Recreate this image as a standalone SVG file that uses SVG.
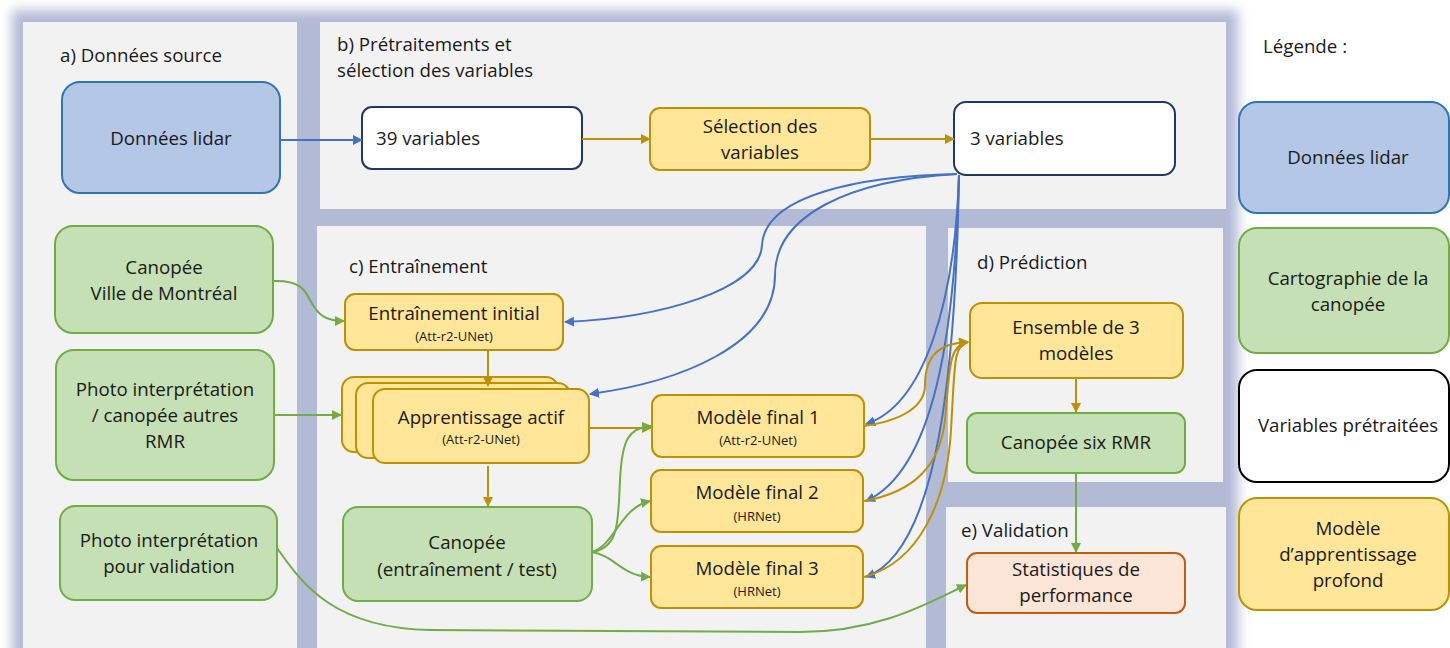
<svg xmlns="http://www.w3.org/2000/svg" width="1450" height="648" viewBox="0 0 1450 648">
<style>
.t{font-family:"Open Sans","Noto Sans",sans-serif;font-size:18.7px;fill:#1a1a1a}
.c{text-anchor:middle}
.s{font-size:13px}
.panel{fill:#f2f2f2}
.lidar{fill:#b4c7e7;stroke:#2e75b6;stroke-width:2}
.green{fill:#c5e0b4;stroke:#70ad47;stroke-width:2}
.white{fill:#fff;stroke:#203864;stroke-width:2}
.gold{fill:#ffe699;stroke:#bf9000;stroke-width:2}
.orange{fill:#fbe5d6;stroke:#c55a11;stroke-width:2}
.cb{fill:none;stroke:#4472c4;stroke-width:2;marker-end:url(#ab)}
.cg{fill:none;stroke:#bf9000;stroke-width:2;marker-end:url(#ag)}
.cv{fill:none;stroke:#70ad47;stroke-width:2;marker-end:url(#av)}
</style>
<defs>
<filter id="blur" x="-5%" y="-5%" width="110%" height="110%"><feGaussianBlur stdDeviation="6"/></filter>
<marker id="ab" viewBox="0 0 10 10" refX="9" refY="5" markerWidth="5" markerHeight="5" orient="auto"><path d="M0,0 L10,5 L0,10 z" fill="#4472c4"/></marker>
<marker id="ag" viewBox="0 0 10 10" refX="9" refY="5" markerWidth="5" markerHeight="5" orient="auto"><path d="M0,0 L10,5 L0,10 z" fill="#bf9000"/></marker>
<marker id="av" viewBox="0 0 10 10" refX="9" refY="5" markerWidth="5" markerHeight="5" orient="auto"><path d="M0,0 L10,5 L0,10 z" fill="#70ad47"/></marker>
</defs>
<rect width="1450" height="648" fill="#fff"/>
<rect x="12" y="10" width="1226" height="670" fill="#b3bad6" filter="url(#blur)"/>
<g id="panels">
<rect class="panel" x="23" y="22" width="274" height="640"/>
<rect class="panel" x="320" y="22" width="906" height="187"/>
<rect class="panel" x="317" y="226" width="609" height="430"/>
<rect class="panel" x="948" y="228" width="275" height="254"/>
<rect class="panel" x="946" y="507" width="280" height="150"/>
<text class="t" x="60" y="62">a) Données source</text>
<text class="t" x="337" y="51">b) Prétraitements et</text>
<text class="t" x="337" y="77">sélection des variables</text>
<text class="t" x="349" y="273">c) Entraînement</text>
<text class="t" x="977" y="269">d) Prédiction</text>
<text class="t" x="961" y="537">e) Validation</text>
</g>
<g id="n-lidar"><rect class="lidar" x="62" y="82" width="218" height="111" rx="18"/><text class="t c" x="171" y="145">Données lidar</text></g>
<g id="n-canmtl"><rect class="green" x="55" y="226" width="218" height="107" rx="18"/><text class="t c" x="164" y="274">Canopée</text><text class="t c" x="164" y="300">Ville de Montréal</text></g>
<g id="n-photo"><rect class="green" x="56" y="350" width="218" height="130" rx="18"/><text class="t c" x="165" y="396">Photo interprétation</text><text class="t c" x="165" y="422">/ canopée autres</text><text class="t c" x="165" y="448">RMR</text></g>
<g id="n-photoval"><rect class="green" x="60" y="506" width="217" height="94" rx="15"/><text class="t c" x="169" y="547">Photo interprétation</text><text class="t c" x="169" y="573">pour validation</text></g>
<g id="n-39"><rect class="white" x="362" y="107" width="220" height="62" rx="10"/><text class="t" x="376" y="145">39 variables</text></g>
<g id="n-sel"><rect class="gold" x="650" y="108" width="220" height="62" rx="10"/><text class="t c" x="760" y="133">Sélection des</text><text class="t c" x="760" y="159">variables</text></g>
<g id="n-3"><rect class="white" x="954" y="102" width="221" height="73" rx="12"/><text class="t" x="970" y="145">3 variables</text></g>
<g id="n-init"><rect class="gold" x="345" y="294" width="218" height="56" rx="10"/><text class="t c" x="454" y="320">Entraînement initial</text><text class="t c s" x="454" y="341">(Att-r2-UNet)</text></g>
<g id="n-actif"><rect class="gold" x="342" y="377" width="216" height="75" rx="12"/><rect class="gold" x="356" y="383" width="214" height="75" rx="12"/><rect class="gold" x="373" y="389" width="216" height="74" rx="12"/><text class="t c" x="481" y="424">Apprentissage actif</text><text class="t c s" x="481" y="444">(Att-r2-UNet)</text></g>
<g id="n-cantt"><rect class="green" x="343" y="507" width="249" height="94" rx="15"/><text class="t c" x="467" y="549">Canopée</text><text class="t c" x="467" y="576">(entraînement / test)</text></g>
<g id="n-m1"><rect class="gold" x="652" y="395" width="212" height="62" rx="10"/><text class="t c" x="758" y="424">Modèle final 1</text><text class="t c s" x="758" y="445">(Att-r2-UNet)</text></g>
<g id="n-m2"><rect class="gold" x="651" y="470" width="212" height="62" rx="10"/><text class="t c" x="757" y="499">Modèle final 2</text><text class="t c s" x="757" y="521">(HRNet)</text></g>
<g id="n-m3"><rect class="gold" x="651" y="546" width="212" height="62" rx="10"/><text class="t c" x="757" y="575">Modèle final 3</text><text class="t c s" x="757" y="596">(HRNet)</text></g>
<g id="n-ens"><rect class="gold" x="970" y="303" width="213" height="75" rx="12"/><text class="t c" x="1076" y="334">Ensemble de 3</text><text class="t c" x="1076" y="360">modèles</text></g>
<g id="n-six"><rect class="green" x="967" y="413" width="218" height="60" rx="10"/><text class="t c" x="1076" y="449">Canopée six RMR</text></g>
<g id="n-stat"><rect class="orange" x="967" y="553" width="218" height="60" rx="10"/><text class="t c" x="1076" y="576">Statistiques de</text><text class="t c" x="1076" y="602">performance</text></g>
<g id="connectors">
<path class="cb" d="M281,140 L362,140"/>
<path class="cg" d="M582,139 L650,139"/>
<path class="cg" d="M870,139 L954,139"/>
<path class="cb" d="M957,174 C860,176 765,195 762,245 C760,290 660,318 565,322"/>
<path class="cb" d="M957,174 C850,180 775,215 775,275 C775,345 680,382 590,394"/>
<path class="cb" d="M959,175 C955,300 925,405 866,424"/>
<path class="cb" d="M959,175 C955,330 935,470 866,501"/>
<path class="cb" d="M959,175 C956,360 940,550 866,577"/>
<path class="cg" d="M864,426 C905,420 925,405 925,385 C925,355 940,343 968,342"/>
<path class="cg" d="M864,501 C915,492 940,465 945,420 C950,370 948,345 968,342"/>
<path class="cg" d="M864,577 C920,562 947,500 951,430 C955,365 953,345 968,342"/>
<path class="cg" d="M589,428 L651,428"/>
<path class="cg" d="M488,351 L488,386"/>
<path class="cg" d="M488,466 L488,506"/>
<path class="cg" d="M1076,378 L1076,412"/>
<path class="cv" d="M1076,473 L1076,552"/>
<path class="cv" d="M273,281 C300,280 305,290 310,300 C318,315 325,321 344,321"/>
<path class="cv" d="M274,415 L341,415"/>
<path class="cv" d="M592,552 C620,548 618,520 620,480 C622,440 628,428 651,426"/>
<path class="cv" d="M592,552 C615,545 620,508 650,501"/>
<path class="cv" d="M592,552 C615,556 622,576 650,577"/>
<path class="cv" d="M277,548 C300,580 330,628 430,630 L800,632 C880,632 930,602 966,585"/>
</g>
<g id="legend">
<text class="t" x="1263" y="53">Légende :</text>
<rect class="lidar" x="1239" y="102" width="210" height="111" rx="18"/><text class="t c" x="1348" y="164">Données lidar</text>
<rect class="green" x="1239" y="228" width="210" height="125" rx="18"/><text class="t c" x="1348" y="285">Cartographie de la</text><text class="t c" x="1348" y="311">canopée</text>
<rect x="1239" y="370" width="210" height="112" rx="18" fill="#fff" stroke="#000" stroke-width="2"/><text class="t c" x="1348" y="432">Variables prétraitées</text>
<rect class="gold" x="1239" y="498" width="210" height="112" rx="18"/><text class="t c" x="1348" y="535">Modèle</text><text class="t c" x="1348" y="561">d’apprentissage</text><text class="t c" x="1348" y="587">profond</text>
</g>
</svg>
